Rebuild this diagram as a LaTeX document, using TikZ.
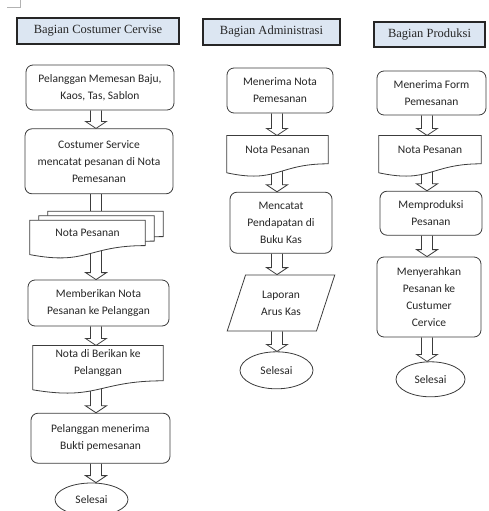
\documentclass[tikz,border=0pt]{standalone}
\usepackage{fontspec}
\setmainfont{Carlito}
\newfontfamily\hdrfont{Liberation Serif}
\usepackage{tikz}
\usetikzlibrary{backgrounds}
\usetikzlibrary{calc}
\usetikzlibrary{positioning}
\usetikzlibrary{shapes}
\definecolor{hdrblue}{RGB}{220, 230, 242}
\definecolor{lineclr}{RGB}{60, 60, 60}
\tikzset{
    header/.style = {
      draw=black!85,
      line width=1.2pt,
      fill=hdrblue,
      rectangle,
      font=\hdrfont\fontsize{12.5}{14}\selectfont
    },
    box/.style = {
      draw=lineclr,
      line width=0.8pt,
      rounded corners=7pt,
      rectangle,
      fill=white,
      align=center
    },
    doc/.style = {
      rectangle,
      align=center,
      inner sep=0pt
    },
    io/.style = {
      trapezium,
      trapezium left angle=69,
      trapezium right angle=111,
      trapezium stretches=true,
      draw=lineclr,
      line width=0.8pt,
      fill=white,
      align=center
    },
    stop/.style = {
      ellipse,
      draw=lineclr,
      line width=0.8pt,
      fill=white
    },
    docline/.style = {draw=lineclr, line width=0.8pt, fill=white},
    flowline/.style = {draw=lineclr, line width=0.8pt, fill=white, line join=miter},
}
% document outline round a doc node, shifted by #2
\newcommand{\docoutline}[2]{%
  \draw[docline] ($(#1.north west)+(#2)$) -- ($(#1.north east)+(#2)$) -- ($(#1.south east)+(#2)$)
    .. controls ($(#1.south)+(#2)$) and ($(#1.south)+(#2)+(0,20)$) .. ($(#1.south west)+(#2)+(0,9)$) -- cycle;}
% hollow block arrow from #1 down to #2 along the axis #3
\newcommand{\flowarrow}[3]{%
  \draw[flowline] ($(#1.south -| #3)+(-5.5,0)$) -- ($(#2.north -| #3)+(-5.5,-7)$)
    -- ($(#2.north -| #3)+(-10.5,-7)$) -- (#2.north -| #3)
    -- ($(#2.north -| #3)+(10.5,-7)$) -- ($(#2.north -| #3)+(5.5,-7)$)
    -- ($(#1.south -| #3)+(5.5,0)$);}

\begin{document}
\begin{tikzpicture}[x=1pt, y=-1pt, font=\fontsize{11.5}{17}\selectfont, text=black!85]
      \useasboundingbox (0,0) rectangle (489,511);
      \draw[gray!60, line width=0.6pt] (7,7) -- (20,7) -- (20,0);

      \node[header, minimum width=162pt, minimum height=26pt] (hdr1) at (98,31) {Bagian Costumer Cervise};
      \node[header, minimum width=137pt, minimum height=26pt] (hdr2) at (271.5,32) {Bagian Administrasi};
      \node[header, minimum width=111pt, minimum height=25pt] (hdr3) at (429.5,34.5) {Bagian Produksi};

      \coordinate (axis1) at (96,0);
      \coordinate (axis2) at (277,0);
      \coordinate (axis3) at (427,0);

      % costumer service
      \node[box, below=20pt of hdr1, xshift=2pt, minimum width=148pt, minimum height=45pt] (pesan) {Pelanggan Memesan Baju,\\Kaos, Tas, Sablon};
      \node[box, below=18pt of pesan, xshift=-1pt, minimum width=148pt, minimum height=65pt] (catat) {Costumer Service\\mencatat pesanan di Nota\\Pemesanan};
      \node[doc, below=26pt of catat, xshift=-11.5pt, minimum width=115pt, minimum height=25pt] (notacs) {Nota Pesanan};
      \node[box, below=34pt of notacs, xshift=11pt, minimum width=141pt, minimum height=46pt] (beri) {Memberikan Nota\\Pesanan ke Pelanggan};
      \node[doc, below=19pt of beri, xshift=-0.5pt, minimum width=130pt, minimum height=35pt] (notaplg) {Nota di Berikan ke\\Pelanggan};
      \node[box, below=32pt of notaplg, xshift=2.5pt, minimum width=139pt, minimum height=50pt] (terima) {Pelanggan menerima\\Bukti pemesanan};
      \node[stop, below=19pt of terima, xshift=-9pt, minimum width=73pt, minimum height=33pt] (selesai1) {Selesai};

      % administrasi
      \node[box, below=22pt of hdr2, xshift=8.5pt, minimum width=106pt, minimum height=45pt] (terimanota) {Menerima Nota\\Pemesanan};
      \node[doc, below=22pt of terimanota, xshift=-2.5pt, minimum width=101pt, minimum height=28pt] (notaadm) {Nota Pesanan};
      \node[box, below=28pt of notaadm, xshift=3.5pt, minimum width=102pt, minimum height=61pt] (kas) {Mencatat\\Pendapatan di\\Buku Kas};
      \node[io, below=21pt of kas, minimum width=108pt, minimum height=56pt] (laporan) {Laporan\\Arus Kas};
      \node[stop, below=20pt of laporan, xshift=-4.5pt, minimum width=73pt, minimum height=37pt] (selesai2) {Selesai};

      % produksi
      \node[box, below=23pt of hdr3, xshift=2pt, minimum width=109pt, minimum height=44pt] (terimaform) {Menerima Form\\Pemesanan};
      \node[doc, below=20pt of terimaform, xshift=-1.5pt, minimum width=102pt, minimum height=28pt] (notaprod) {Nota Pesanan};
      \node[box, below=27pt of notaprod, xshift=1pt, minimum width=102pt, minimum height=44pt] (produksi) {Memproduksi\\Pesanan};
      \node[box, below=21pt of produksi, xshift=-2pt, minimum width=104pt, minimum height=80pt] (serah) {Menyerahkan\\Pesanan ke\\Custumer\\Cervice};
      \node[stop, below=24pt of serah, xshift=1.5pt, minimum width=69pt, minimum height=35pt] (selesai3) {Selesai};

      \begin{pgfonlayer}{background}
        \flowarrow{pesan}{catat}{axis1}
        \flowarrow{catat}{notacs}{axis1}
        \flowarrow{notacs}{beri}{axis1}
        \flowarrow{beri}{notaplg}{axis1}
        \flowarrow{notaplg}{terima}{axis1}
        \flowarrow{terima}{selesai1}{axis1}
        \flowarrow{terimanota}{notaadm}{axis2}
        \flowarrow{notaadm}{kas}{axis2}
        \flowarrow{kas}{laporan}{axis2}
        \flowarrow{laporan}{selesai2}{axis2}
        \flowarrow{terimaform}{notaprod}{axis3}
        \flowarrow{notaprod}{produksi}{axis3}
        \flowarrow{produksi}{serah}{axis3}
        \flowarrow{serah}{selesai3}{axis3}

        \docoutline{notacs}{18,-9}
        \docoutline{notacs}{9,-4.5}
        \docoutline{notacs}{0,0}
        \docoutline{notaplg}{0,0}
        \docoutline{notaadm}{0,0}
        \docoutline{notaprod}{0,0}
      \end{pgfonlayer}
\end{tikzpicture}
\end{document}
